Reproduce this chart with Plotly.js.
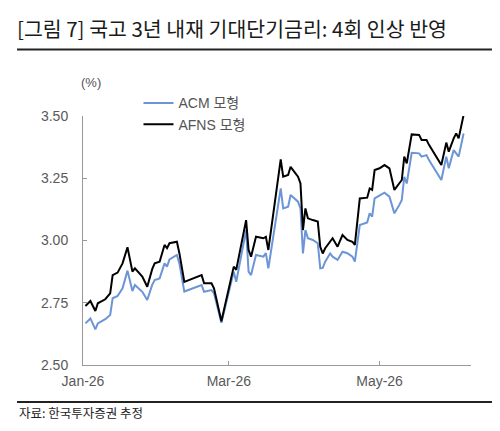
<!DOCTYPE html>
<html>
<head>
<meta charset="utf-8">
<script src="https://cdn.plot.ly/plotly-3.0.1.min.js"></script>
<style>html,body{margin:0;padding:0;background:#fff;}#chart{width:500px;height:431px;}</style>
</head>
<body>
<div id="chart"></div>
<script>
const dates = [
"2026-01-02","2026-01-04","2026-01-06","2026-01-07","2026-01-10","2026-01-12","2026-01-13","2026-01-15","2026-01-17","2026-01-19",
"2026-01-21","2026-01-22","2026-01-25","2026-01-27","2026-01-29","2026-01-30","2026-02-01","2026-02-03","2026-02-04","2026-02-05",
"2026-02-08","2026-02-09","2026-02-11","2026-02-18","2026-02-19","2026-02-22","2026-02-23","2026-02-26","2026-03-03","2026-03-04",
"2026-03-08","2026-03-09","2026-03-10","2026-03-12","2026-03-15","2026-03-16","2026-03-17","2026-03-22","2026-03-23","2026-03-25",
"2026-03-26","2026-03-29","2026-03-30","2026-03-31","2026-04-01","2026-04-02","2026-04-04","2026-04-06","2026-04-07","2026-04-08",
"2026-04-09","2026-04-11","2026-04-12","2026-04-14","2026-04-16","2026-04-18","2026-04-20","2026-04-21","2026-04-23","2026-04-26",
"2026-04-27","2026-04-28","2026-04-29","2026-05-01","2026-05-03","2026-05-05","2026-05-07","2026-05-09","2026-05-10","2026-05-11",
"2026-05-12","2026-05-14","2026-05-17","2026-05-18","2026-05-20","2026-05-21","2026-05-26","2026-05-28","2026-05-29","2026-05-31",
"2026-06-01","2026-06-02","2026-06-04"
];
const acm = [
2.667,2.687,2.643,2.667,2.684,2.701,2.768,2.777,2.808,2.879,
2.797,2.821,2.794,2.761,2.822,2.841,2.848,2.908,2.895,2.924,
2.942,2.908,2.795,2.821,2.794,2.801,2.788,2.670,2.875,2.834,
3.042,2.875,2.861,2.942,2.935,2.949,2.888,3.209,3.129,3.136,
3.183,3.156,3.129,2.948,3.042,3.009,3.002,2.989,2.888,2.890,
2.915,2.948,2.935,2.922,2.955,2.949,2.935,2.915,3.062,3.072,
3.109,3.096,3.169,3.179,3.192,3.176,3.109,3.143,3.163,3.256,
3.229,3.352,3.350,3.337,3.343,3.323,3.243,3.337,3.290,3.363,
3.350,3.337,3.430
];
const afns = [
2.737,2.757,2.717,2.748,2.764,2.788,2.861,2.871,2.908,2.973,
2.875,2.888,2.855,2.814,2.885,2.908,2.915,2.982,2.969,2.989,
2.995,2.949,2.834,2.861,2.828,2.828,2.808,2.676,2.895,2.882,
3.082,2.962,2.935,3.015,3.009,3.015,2.962,3.326,3.256,3.263,
3.296,3.256,3.229,3.042,3.129,3.089,3.082,3.076,2.975,2.948,
2.969,2.995,3.009,2.975,3.022,3.002,2.995,2.982,3.169,3.172,
3.209,3.203,3.283,3.290,3.303,3.290,3.203,3.230,3.243,3.337,
3.310,3.426,3.424,3.404,3.404,3.384,3.303,3.393,3.357,3.410,
3.430,3.410,3.504
];
const seriesNames = ["ACM 모형","AFNS 모형"];
const tickDates = ["2026-01-01","2026-03-01","2026-05-01"];
const tickLabels = ["Jan-26","Mar-26","May-26"];
const yTicks = [2.50,2.75,3.00,3.25,3.50];

const latin = "Liberation Sans, Arial, Noto Sans CJK KR, sans-serif";
const kr = "Noto Sans CJK KR, Liberation Sans, sans-serif";

const traces = [
  {x: dates, y: acm, name: seriesNames[0], type: "scatter", mode: "lines",
   line: {color: "#6b95d6", width: 2}},
  {x: dates, y: afns, name: seriesNames[1], type: "scatter", mode: "lines",
   line: {color: "#000000", width: 2}}
];

const layout = {
  width: 500, height: 431,
  margin: {l: 83, r: 29, t: 116, b: 66},
  paper_bgcolor: "#fff", plot_bgcolor: "#fff",
  title: {text: "[그림 7] 국고 3년 내재 기대단기금리: 4회 인상 반영",
    font: {family: kr, size: 20.5, color: "#1a1a1a"},
    x: 17/500, xanchor: "left", xref: "container",
    y: 1 - 30/431, yanchor: "middle", yref: "container"},
  showlegend: true,
  legend: {x: 0.143, xanchor: "left", y: 1.115, yanchor: "top",
    font: {family: latin, size: 14, color: "#555"}, bgcolor: "rgba(0,0,0,0)",
    tracegroupgap: 0},
  xaxis: {type: "date", range: ["2026-01-01","2026-06-07"],
    tickvals: tickDates, ticktext: tickLabels,
    ticks: "inside", ticklen: 4, tickcolor: "#999",
    showline: true, linecolor: "#999", linewidth: 1,
    showgrid: false, zeroline: false, ticklabelstandoff: 3,
    tickfont: {family: latin, size: 14, color: "#595959"}},
  yaxis: {range: [2.5, 3.5], tickvals: yTicks, tickformat: ".2f",
    ticks: "inside", ticklen: 4, tickcolor: "#999",
    showline: true, linecolor: "#999", linewidth: 1,
    showgrid: false, zeroline: false, ticklabelstandoff: 11,
    tickfont: {family: latin, size: 14, color: "#595959"}},
  shapes: [
    {type: "line", xref: "paper", yref: "paper", x0: -0.170, x1: 1.054, y0: 1.267, y1: 1.267,
     line: {color: "#222", width: 2}},
    {type: "line", xref: "paper", yref: "paper", x0: -0.170, x1: 1.054, y0: -0.1486, y1: -0.1486,
     line: {color: "#222", width: 2}}
  ],
  annotations: [
    {text: "(%)", xref: "paper", yref: "paper", x: 0.0206, y: 1.1365,
     xanchor: "center", yanchor: "middle", showarrow: false,
     font: {family: latin, size: 13, color: "#555"}},
    {text: "자료: 한국투자증권 추정", xref: "paper", yref: "paper", x: -0.170, y: -0.189,
     xanchor: "left", yanchor: "middle", showarrow: false,
     font: {family: kr, size: 12.5, color: "#222"}}
  ]
};

Plotly.newPlot("chart", traces, layout, {displayModeBar: false, staticPlot: true});
</script>
</body>
</html>
